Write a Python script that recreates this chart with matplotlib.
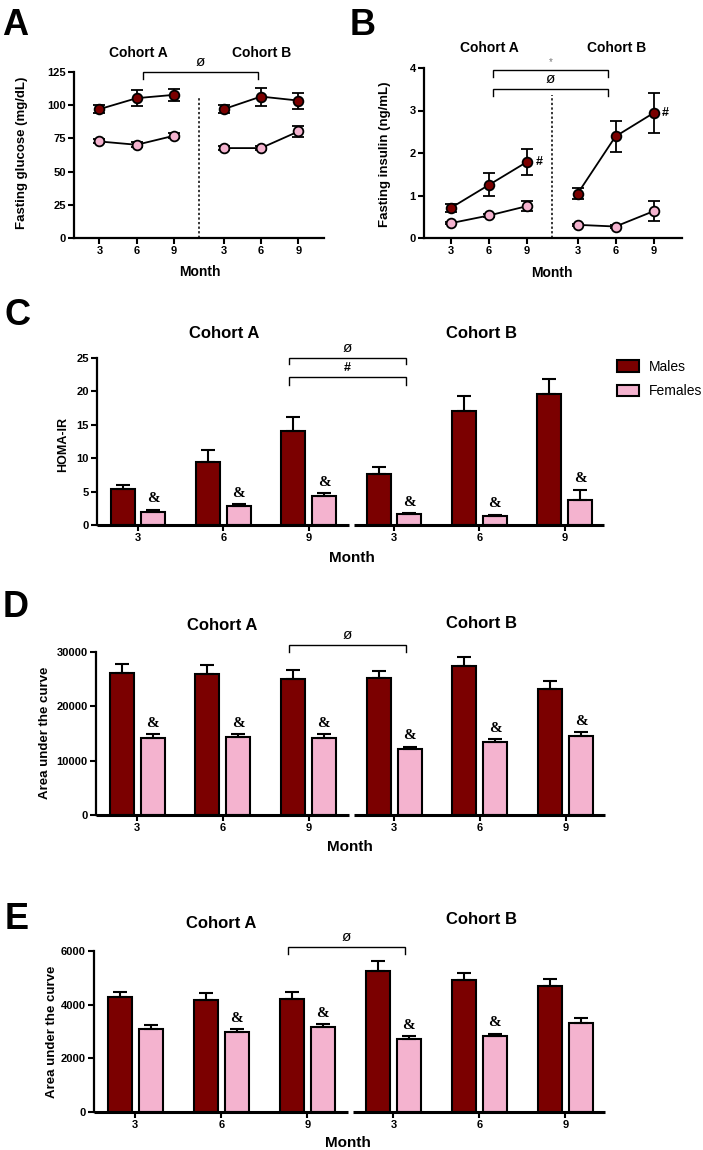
import matplotlib
matplotlib.use('Agg')
import matplotlib.pyplot as plt
from matplotlib.patches import Patch
from matplotlib.transforms import blended_transform_factory

W, H = 703, 1150
plt.rcParams['font.family'] = ['Liberation Sans', 'DejaVu Sans']
plt.rcParams['font.weight'] = 'bold'

MALE = '#7b0000'
FEMALE = '#f4b3cf'

months = ['3', '6', '9', '3', '6', '9']
cohorts = ['Cohort A', 'Cohort B']
sexes = ['Males', 'Females']

# Panel A: fasting glucose (mg/dL)
glu_m = [97, 105.3, 107.8, 97, 106.5, 103.5]
glu_m_err = [3, 6, 4.5, 3, 6.8, 6]
glu_f = [72.7, 70.2, 77, 67.7, 67.7, 80.2]
glu_f_err = [1.5, 1.8, 2, 1.5, 1.5, 4]

# Panel B: fasting insulin (ng/mL)
ins_m = [0.71, 1.25, 1.79, 1.04, 2.39, 2.94]
ins_m_err = [0.1, 0.27, 0.3, 0.13, 0.37, 0.48]
ins_f = [0.35, 0.53, 0.75, 0.31, 0.27, 0.63]
ins_f_err = [0.03, 0.04, 0.12, 0.03, 0.03, 0.24]

# Panel C: HOMA-IR
homa_m = [5.35, 9.5, 14.1, 7.7, 17.0, 19.55]
homa_m_err = [0.65, 1.7, 2.1, 1.05, 2.25, 2.35]
homa_f = [1.95, 2.8, 4.3, 1.6, 1.4, 3.8]
homa_f_err = [0.35, 0.3, 0.5, 0.2, 0.15, 1.5]
homa_amp = [True, True, True, True, True, True]

# Panel D: area under the curve
aucd_m = [26200, 25900, 25100, 25200, 27350, 23200]
aucd_m_err = [1550, 1650, 1500, 1350, 1750, 1500]
aucd_f = [14250, 14400, 14250, 12100, 13400, 14550]
aucd_f_err = [600, 550, 600, 500, 600, 750]
aucd_amp = [True, True, True, True, True, True]

# Panel E: area under the curve
auce_m = [4290, 4190, 4220, 5240, 4910, 4710]
auce_m_err = [180, 240, 240, 390, 270, 230]
auce_f = [3110, 2980, 3170, 2710, 2830, 3330]
auce_f_err = [120, 110, 120, 110, 90, 160]
auce_amp = [False, True, True, True, True, False]

fig = plt.figure(figsize=(W / 100, H / 100), dpi=100)


def rect(left, top, right, bottom):
    return [left / W, 1 - bottom / H, (right - left) / W, (bottom - top) / H]


def ftext(x, y, s, **kw):
    kw.setdefault('ha', 'center')
    kw.setdefault('va', 'center')
    fig.text(x / W, 1 - y / H, s, **kw)


def style(ax, ylim, yticks):
    ax.set_ylim(*ylim)
    ax.set_yticks(yticks)
    for s in ('top', 'right'):
        ax.spines[s].set_visible(False)
    for s in ('left', 'bottom'):
        ax.spines[s].set_linewidth(1.6)
    ax.tick_params(direction='out', length=4, width=1.5, labelsize=8, pad=2)
    for lab in ax.get_xticklabels() + ax.get_yticklabels():
        lab.set_fontweight('bold')


def bracket(ax, x1, x2, y, leg, label, dy_text, size=10, color='black', weight='normal'):
    ax.plot([x1, x1, x2, x2], [y - leg, y, y, y - leg], color='black', lw=1.0,
            clip_on=False, solid_joinstyle='miter')
    ax.annotate(label, xy=((x1 + x2) / 2, y), xytext=(0, dy_text), textcoords='offset points',
                ha='center', va='bottom', fontsize=size, color=color, fontweight=weight,
                annotation_clip=False)


def line_panel(r, m, me, f, fe, ylim, yticks, vline_top):
    ax = fig.add_axes(r)
    xpos = [0, 1, 2, 3.33, 4.33, 5.33]
    for sl in (slice(0, 3), slice(3, 6)):
        for vals, errs, col in ((f, fe, FEMALE), (m, me, MALE)):
            ax.errorbar(xpos[sl], vals[sl], yerr=errs[sl], color='black', lw=1.3,
                        marker='o', ms=7, mfc=col, mec='black', mew=1.3,
                        capsize=4.5, elinewidth=1.3, capthick=1.3, zorder=3, clip_on=False)
    ax.set_xticks(xpos)
    ax.set_xticklabels(months)
    ax.set_xlim(-0.68, 6.02)
    ax.axvline(2.67, ymin=0, ymax=vline_top, color='black', lw=1.1, ls=(0, (1.5, 1.5)))
    style(ax, ylim, yticks)
    return ax, xpos


# ---------- Panel A ----------
axA, xp = line_panel(rect(74, 72, 324, 238), glu_m, glu_m_err, glu_f, glu_f_err,
                     (0, 125), [0, 25, 50, 75, 100, 125], 0.85)
bracket(axA, 1.17, 4.24, 125, 5.5, 'ø', 2, size=11)
ftext(2, 35, 'A', ha='left', va='baseline', fontsize=26, fontweight='bold')
ftext(138, 53, cohorts[0], fontsize=10)
ftext(262, 53, cohorts[1], fontsize=10)
ftext(22, 153, 'Fasting glucose (mg/dL)', rotation=90, fontsize=9.5)
ftext(200, 272, 'Month', fontsize=10)

# ---------- Panel B ----------
axB, xp = line_panel(rect(424, 68, 682, 238), ins_m, ins_m_err, ins_f, ins_f_err,
                     (0, 4), [0, 1, 2, 3, 4], 0.84)
axB.set_xlim(-0.71, 6.08)
bracket(axB, 1.1, 4.13, 3.95, 0.15, '*', 2, size=7, color='#777777')
bracket(axB, 1.1, 4.13, 3.51, 0.17, 'ø', 2, size=11)
for i in (2, 5):
    axB.annotate('#', xy=(xp[i], ins_m[i]), xytext=(6, 0), textcoords='offset points',
                 ha='left', va='center', fontsize=9, fontweight='bold')
ftext(350, 35, 'B', ha='left', va='baseline', fontsize=26, fontweight='bold')
ftext(489, 48, cohorts[0], fontsize=10)
ftext(617, 48, cohorts[1], fontsize=10)
ftext(385, 154, 'Fasting insulin (ng/mL)', rotation=90, fontsize=9.5)
ftext(552, 273, 'Month', fontsize=10)


# ---------- Bar panels ----------
def bar_panel(r, m, me, f, fe, amp, ylim, yticks):
    ax = fig.add_axes(r)
    x = list(range(6))
    off, bw = 0.18, 0.28
    ekw = dict(capsize=5, elinewidth=1.5, capthick=1.5, ecolor='black')
    ax.bar([v - off for v in x], m, bw, color=MALE, edgecolor='black', lw=1.5,
           yerr=[[0] * 6, me], error_kw=ekw, label=sexes[0], zorder=2)
    ax.bar([v + off for v in x], f, bw, color=FEMALE, edgecolor='black', lw=1.5,
           yerr=[[0] * 6, fe], error_kw=ekw, label=sexes[1], zorder=2)
    for i in range(6):
        if amp[i]:
            ax.annotate('&', xy=(x[i] + off, f[i] + fe[i]), xytext=(0, 3),
                        textcoords='offset points', ha='center', va='bottom',
                        fontsize=11, fontweight='bold', family='Liberation Serif')
    ax.set_xticks(x)
    ax.set_xticklabels(months)
    xl = (-0.48, 5.46)
    ax.set_xlim(*xl)
    ax.spines['bottom'].set_visible(False)
    tr = blended_transform_factory(ax.transData, ax.transAxes)
    for a, b in ((xl[0], 2.47), (2.53, xl[1])):
        ax.plot([a, b], [0, 0], transform=tr, color='black', lw=2.2, clip_on=False,
                solid_capstyle='butt')
    style(ax, ylim, yticks)
    return ax


axC = bar_panel(rect(97, 358, 604, 525), homa_m, homa_m_err, homa_f, homa_f_err, homa_amp,
                (0, 25), [0, 5, 10, 15, 20, 25])
bracket(axC, 1.77, 3.14, 25, 0.9, 'ø', 2, size=11)
bracket(axC, 1.77, 3.14, 22.2, 1.2, '#', 2, size=9, weight='bold')
ftext(4, 325, 'C', ha='left', va='baseline', fontsize=26, fontweight='bold')
ftext(224, 333, cohorts[0], fontsize=12)
ftext(482, 333, cohorts[1], fontsize=12)
ftext(63, 445, 'HOMA-IR', rotation=90, fontsize=9)
ftext(352, 558, 'Month', fontsize=11)
handles = [Patch(facecolor=MALE, edgecolor='black', lw=1.5, label=sexes[0]),
           Patch(facecolor=FEMALE, edgecolor='black', lw=1.5, label=sexes[1])]
fig.legend(handles=handles, loc='upper left', bbox_to_anchor=(617 / W, 1 - 360 / H),
           frameon=False, prop=dict(size=10, weight='normal'), handlelength=1.6,
           handleheight=0.9, handletextpad=0.7, labelspacing=0.75, borderpad=0,
           borderaxespad=0)

axD = bar_panel(rect(96, 652, 605, 815), aucd_m, aucd_m_err, aucd_f, aucd_f_err, aucd_amp,
                (0, 30000), [0, 10000, 20000, 30000])
bracket(axD, 1.77, 3.14, 31300, 1300, 'ø', 2, size=11)
ftext(3, 617, 'D', ha='left', va='baseline', fontsize=26, fontweight='bold')
ftext(222, 626, cohorts[0], fontsize=12)
ftext(481, 623, cohorts[1], fontsize=12)
ftext(45, 733, 'Area under the curve', rotation=90, fontsize=9.5)
ftext(350, 847, 'Month', fontsize=11)

axE = bar_panel(rect(94, 951, 605, 1112), auce_m, auce_m_err, auce_f, auce_f_err, auce_amp,
                (0, 6000), [0, 2000, 4000, 6000])
bracket(axE, 1.77, 3.14, 6150, 260, 'ø', 2, size=11)
ftext(5, 929, 'E', ha='left', va='baseline', fontsize=26, fontweight='bold')
ftext(221, 924, cohorts[0], fontsize=12)
ftext(481, 920, cohorts[1], fontsize=12)
ftext(52, 1032, 'Area under the curve', rotation=90, fontsize=9.5)
ftext(348, 1143, 'Month', fontsize=11)

fig.savefig('out.png', dpi=100)
